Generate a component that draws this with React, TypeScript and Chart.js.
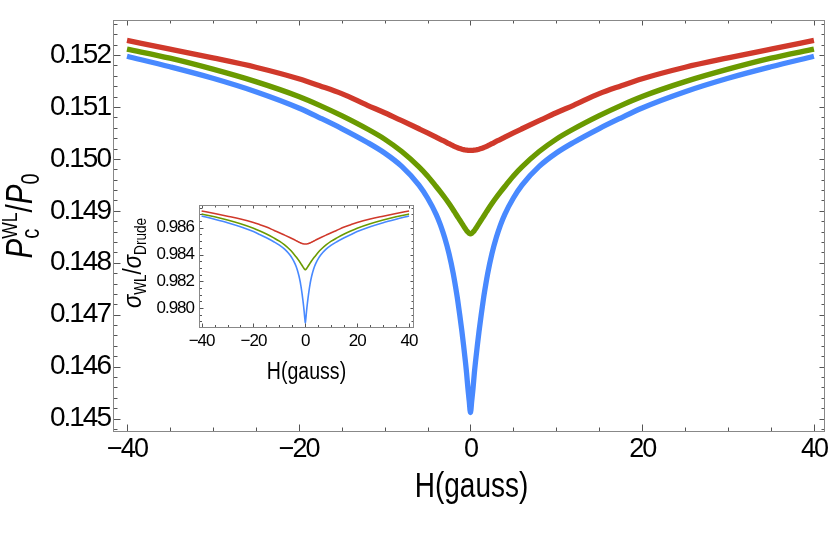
import React, { useEffect, useRef } from "react";
import { Chart, registerables } from "chart.js";
Chart.register(...registerables);

// ---------- data ----------
const H = [-40, -35, -30, -25, -20, -17.5, -15, -12, -10, -8, -6, -5, -4, -3.5, -3, -2.5, -2, -1.75, -1.5, -1.25, -1, -0.8, -0.6, -0.45, -0.3, -0.15, 0, 0.15, 0.3, 0.45, 0.6, 0.8, 1, 1.25, 1.5, 1.75, 2, 2.5, 3, 3.5, 4, 5, 6, 8, 10, 12, 15, 17.5, 20, 25, 30, 35, 40];

const mainRed = [0.152282, 0.152116, 0.151946, 0.151766, 0.151544, 0.151406, 0.151258, 0.151033, 0.150889, 0.150736, 0.150581, 0.150502, 0.150419, 0.150376, 0.150336, 0.150293, 0.150253, 0.150232, 0.150216, 0.150201, 0.150188, 0.150179, 0.150172, 0.150169, 0.150166, 0.150165, 0.150164, 0.150165, 0.150166, 0.150169, 0.150172, 0.150179, 0.150188, 0.150201, 0.150216, 0.150232, 0.150253, 0.150293, 0.150336, 0.150376, 0.150419, 0.150502, 0.150581, 0.150736, 0.150889, 0.151033, 0.151258, 0.151406, 0.151544, 0.151766, 0.151946, 0.152116, 0.152282];
const mainGreen = [0.152116, 0.151941, 0.151729, 0.151489, 0.151203, 0.151028, 0.150834, 0.150576, 0.150382, 0.150142, 0.149847, 0.149672, 0.149469, 0.149365, 0.149256, 0.14914, 0.149017, 0.148952, 0.148887, 0.148823, 0.148758, 0.148705, 0.148657, 0.14862, 0.148592, 0.148568, 0.148555, 0.148568, 0.148592, 0.14862, 0.148657, 0.148705, 0.148758, 0.148823, 0.148887, 0.148952, 0.149017, 0.14914, 0.149256, 0.149365, 0.149469, 0.149672, 0.149847, 0.150142, 0.150382, 0.150576, 0.150834, 0.151028, 0.151203, 0.151489, 0.151729, 0.151941, 0.152116];
const mainBlue = [0.151978, 0.151775, 0.151554, 0.151295, 0.150982, 0.150788, 0.150585, 0.150317, 0.150114, 0.149856, 0.149496, 0.149247, 0.148934, 0.148731, 0.148482, 0.148177, 0.14779, 0.14755, 0.147292, 0.146996, 0.146683, 0.146406, 0.146111, 0.145871, 0.145585, 0.145345, 0.145115, 0.145345, 0.145585, 0.145871, 0.146111, 0.146406, 0.146683, 0.146996, 0.147292, 0.14755, 0.14779, 0.148177, 0.148482, 0.148731, 0.148934, 0.149247, 0.149496, 0.149856, 0.150114, 0.150317, 0.150585, 0.150788, 0.150982, 0.151295, 0.151554, 0.151775, 0.151978];

const insetRed = [0.98726, 0.987066, 0.986867, 0.986656, 0.986397, 0.986235, 0.986062, 0.985799, 0.98563, 0.985451, 0.98527, 0.985177, 0.98508, 0.98503, 0.984983, 0.984933, 0.984886, 0.984861, 0.984843, 0.984825, 0.98481, 0.984799, 0.984791, 0.984788, 0.984784, 0.984783, 0.984782, 0.984783, 0.984784, 0.984788, 0.984791, 0.984799, 0.98481, 0.984825, 0.984843, 0.984861, 0.984886, 0.984933, 0.984983, 0.98503, 0.98508, 0.985177, 0.98527, 0.985451, 0.98563, 0.985799, 0.986062, 0.986235, 0.986397, 0.986656, 0.986867, 0.987066, 0.98726];
const insetGreen = [0.98703, 0.986825, 0.986577, 0.986296, 0.985962, 0.985757, 0.98553, 0.985228, 0.985001, 0.98472, 0.984375, 0.98417, 0.983933, 0.983811, 0.983684, 0.983548, 0.983404, 0.983328, 0.983252, 0.983177, 0.983101, 0.983039, 0.982983, 0.98294, 0.982907, 0.982879, 0.982864, 0.982879, 0.982907, 0.98294, 0.982983, 0.983039, 0.983101, 0.983177, 0.983252, 0.983328, 0.983404, 0.983548, 0.983684, 0.983811, 0.983933, 0.98417, 0.984375, 0.98472, 0.985001, 0.985228, 0.98553, 0.985757, 0.985962, 0.986296, 0.986577, 0.986825, 0.98703];
const insetBlue = [0.98688, 0.986642, 0.986384, 0.986081, 0.985715, 0.985488, 0.98525, 0.984937, 0.984699, 0.984397, 0.983976, 0.983685, 0.983319, 0.983081, 0.98279, 0.982433, 0.98198, 0.981699, 0.981397, 0.981051, 0.980685, 0.980361, 0.980016, 0.979735, 0.9794, 0.979119, 0.97885, 0.979119, 0.9794, 0.979735, 0.980016, 0.980361, 0.980685, 0.981051, 0.981397, 0.981699, 0.98198, 0.982433, 0.98279, 0.983081, 0.983319, 0.983685, 0.983976, 0.984397, 0.984699, 0.984937, 0.98525, 0.985488, 0.985715, 0.986081, 0.986384, 0.986642, 0.98688];

const mainXTicks = [-40, -20, 0, 20, 40];
const mainYTicks = [0.145, 0.146, 0.147, 0.148, 0.149, 0.15, 0.151, 0.152];
const insetXTicks = [-40, -20, 0, 20, 40];
const insetYTicks = [0.98, 0.982, 0.984, 0.986];

// ---------- style ----------
const FONT = "'Liberation Sans', Arimo, Arial, sans-serif";
const RED = "#D0392B";
const GREEN = "#6A9A00";
const BLUE = "#4889FF";
const FRAME = "#888888";
const TICK = "#555555";

type Part = { t: string; size: number; italic?: boolean; dy?: number; noAdvance?: boolean };

function drawParts(ctx: CanvasRenderingContext2D, parts: Part[], x: number, y: number, rotate: boolean, sx: number) {
  ctx.save();
  (ctx as any).letterSpacing = "0px";
  ctx.fillStyle = "#000";
  ctx.textBaseline = "alphabetic";
  ctx.textAlign = "left";
  let total = 0;
  for (const p of parts) {
    ctx.font = `${p.italic ? "italic " : ""}${p.size}px ${FONT}`;
    if (!p.noAdvance) total += ctx.measureText(p.t).width;
  }
  ctx.translate(x, y);
  if (rotate) ctx.rotate(-Math.PI / 2);
  ctx.scale(sx, 1);
  let cx = -total / 2;
  for (const p of parts) {
    ctx.font = `${p.italic ? "italic " : ""}${p.size}px ${FONT}`;
    ctx.fillText(p.t, cx, p.dy || 0);
    if (!p.noAdvance) cx += ctx.measureText(p.t).width;
  }
  ctx.restore();
}

function range(a: number, b: number, step: number) {
  const out: number[] = [];
  for (let v = a; v <= b + step * 1e-6; v += step) out.push(Math.round(v / step) * step);
  return out;
}

type FrameCfg = {
  xMajor: number[]; xMinor: number[]; yMajor: number[]; yMinor: number[];
  major: number; minor: number; major2: number; minor2: number;
  spacing: string;
  titles: (ctx: CanvasRenderingContext2D) => void;
};

function framePlugin(id: string, cfg: FrameCfg) {
  return {
    id,
    beforeDraw(chart: any) {
      (chart.ctx as any).letterSpacing = cfg.spacing;
    },
    afterDraw(chart: any) {
      const { ctx, chartArea: a, scales } = chart;
      (ctx as any).letterSpacing = "0px";
      const xs = scales.x, ys = scales.y;
      const L = Math.round(a.left) + 0.5, R = Math.round(a.right) - 0.5;
      const T = Math.round(a.top) + 0.5, B = Math.round(a.bottom) - 0.5;
      ctx.save();
      ctx.lineWidth = 1;
      ctx.strokeStyle = TICK;
      ctx.beginPath();
      const xt = (v: number, l1: number, l2: number) => {
        const px = Math.round(xs.getPixelForValue(v)) + 0.5;
        if (px < L || px > R) return;
        ctx.moveTo(px, B); ctx.lineTo(px, B - l1);
        ctx.moveTo(px, T); ctx.lineTo(px, T + l2);
      };
      const yt = (v: number, l1: number, l2: number) => {
        const py = Math.round(ys.getPixelForValue(v)) + 0.5;
        if (py < T || py > B) return;
        ctx.moveTo(L, py); ctx.lineTo(L + l1, py);
        ctx.moveTo(R, py); ctx.lineTo(R - l2, py);
      };
      cfg.xMajor.forEach((v) => xt(v, cfg.major, cfg.major2));
      cfg.xMinor.forEach((v) => xt(v, cfg.minor, cfg.minor2));
      cfg.yMajor.forEach((v) => yt(v, cfg.major, cfg.major2));
      cfg.yMinor.forEach((v) => yt(v, cfg.minor, cfg.minor2));
      ctx.stroke();
      ctx.strokeStyle = FRAME;
      ctx.strokeRect(L, T, R - L, B - T);
      ctx.restore();
      cfg.titles(ctx);
    },
  };
}

const fmtX = (v: number) => (v < 0 ? "\u2212" + Math.abs(v) : String(v));

function makeDatasets(h: number[], r: number[], g: number[], b: number[], w: number) {
  const mk = (arr: number[], color: string) => ({
    data: h.map((x, i) => ({ x, y: arr[i] })),
    borderColor: color,
    backgroundColor: color,
    borderWidth: w,
    pointRadius: 0,
    fill: false,
    cubicInterpolationMode: "monotone" as const,
    borderCapStyle: "butt" as const,
  });
  return [mk(b, BLUE), mk(g, GREEN), mk(r, RED)];
}

export default function App() {
  const mainRef = useRef<HTMLCanvasElement>(null);
  const insetRef = useRef<HTMLCanvasElement>(null);

  useEffect(() => {
    const mainFrame = framePlugin("mainFrame", {
      xMajor: mainXTicks,
      xMinor: range(-40, 40, 5).filter((v) => v % 20 !== 0),
      yMajor: mainYTicks,
      yMinor: range(0.1448, 0.1526, 0.0002).filter((v) => Math.abs(v * 1000 - Math.round(v * 1000)) > 1e-6),
      major: 7, minor: 4, major2: 5, minor2: 3,
      spacing: "-2px",
      titles: (ctx) => {
        drawParts(ctx, [{ t: "H(gauss)", size: 35 }], 471.5, 497, false, 0.8);
        drawParts(
          ctx,
          [
            { t: "P", size: 37, italic: true },
            { t: "c", size: 25, dy: 7, noAdvance: true },
            { t: "WL", size: 22, dy: -15 },
            { t: "/", size: 37 },
            { t: "P", size: 37, italic: true },
            { t: "0", size: 25, dy: 7 },
          ],
          32, 216, true, 0.8
        );
      },
    });

    const main = new Chart(mainRef.current!, {
      type: "line",
      data: { datasets: makeDatasets(H, mainRed, mainGreen, mainBlue, 5.3) as any },
      options: {
        responsive: true,
        maintainAspectRatio: false,
        animation: false,
        layout: { padding: { left: 0, right: 3, top: 3, bottom: 0 } },
        plugins: { legend: { display: false }, tooltip: { enabled: false } },
        scales: {
          x: {
            type: "linear",
            min: -41.63,
            max: 41.28,
            grid: { display: false, drawTicks: false },
            border: { display: false },
            afterBuildTicks: (s: any) => { s.ticks = mainXTicks.map((v) => ({ value: v })); },
            afterFit: (s: any) => { s.height = 117; },
            ticks: {
              padding: 1,
              color: "#000",
              font: { family: FONT, size: 27 },
              maxRotation: 0,
              callback: (v: any) => fmtX(Number(v)),
            },
          },
          y: {
            type: "linear",
            min: 0.14474,
            max: 0.15268,
            grid: { display: false, drawTicks: false },
            border: { display: false },
            afterBuildTicks: (s: any) => { s.ticks = mainYTicks.map((v) => ({ value: v })); },
            afterFit: (s: any) => { s.width = 113; },
            ticks: {
              padding: 3,
              color: "#000",
              font: { family: FONT, size: 28 },
              callback: (v: any) => Number(v).toFixed(3),
            },
          },
        },
      },
      plugins: [mainFrame],
    });

    const insetFrame = framePlugin("insetFrame", {
      xMajor: insetXTicks,
      xMinor: range(-40, 40, 5).filter((v) => v % 20 !== 0),
      yMajor: insetYTicks,
      yMinor: range(0.9785, 0.9875, 0.0005).filter((v) => Math.abs(v * 500 - Math.round(v * 500)) > 1e-6),
      major: 4, minor: 2.5, major2: 3, minor2: 2,
      spacing: "-1px",
      titles: (ctx) => {
        drawParts(ctx, [{ t: "H(gauss)", size: 23 }], 196.5, 188.5, false, 0.85);
        drawParts(
          ctx,
          [
            { t: "\u03C3", size: 26, italic: true },
            { t: "WL", size: 16, dy: 5 },
            { t: "/", size: 26 },
            { t: "\u03C3", size: 26, italic: true },
            { t: "Drude", size: 16, dy: 5 },
          ],
          31, 73, true, 0.85
        );
      },
    });

    const inset = new Chart(insetRef.current!, {
      type: "line",
      data: { datasets: makeDatasets(H, insetRed, insetGreen, insetBlue, 1.6) as any },
      options: {
        responsive: true,
        maintainAspectRatio: false,
        animation: false,
        layout: { padding: { left: 0, right: 8, top: 9, bottom: 0 } },
        plugins: { legend: { display: false }, tooltip: { enabled: false } },
        scales: {
          x: {
            type: "linear",
            min: -41.0,
            max: 41.9,
            grid: { display: false, drawTicks: false },
            border: { display: false },
            afterBuildTicks: (s: any) => { s.ticks = insetXTicks.map((v) => ({ value: v })); },
            afterFit: (s: any) => { s.height = 62; },
            ticks: {
              padding: 3,
              color: "#000",
              font: { family: FONT, size: 17 },
              maxRotation: 0,
              callback: (v: any) => fmtX(Number(v)),
            },
          },
          y: {
            type: "linear",
            min: 0.9785,
            max: 0.98769,
            grid: { display: false, drawTicks: false },
            border: { display: false },
            afterBuildTicks: (s: any) => { s.ticks = insetYTicks.map((v) => ({ value: v })); },
            afterFit: (s: any) => { s.width = 89; },
            ticks: {
              padding: 5,
              color: "#000",
              font: { family: FONT, size: 17 },
              callback: (v: any) => Number(v).toFixed(3),
            },
          },
        },
      },
      plugins: [insetFrame],
    });

    return () => {
      main.destroy();
      inset.destroy();
    };
  }, []);

  return (
    <div style={{ position: "fixed", left: 0, top: 0, width: 830, height: 549, background: "#fff" }}>
      <div style={{ position: "absolute", left: 0, top: 0, width: 830, height: 549 }}>
        <canvas ref={mainRef} />
      </div>
      <div style={{ position: "absolute", left: 110, top: 190, width: 312, height: 200 }}>
        <canvas ref={insetRef} />
      </div>
    </div>
  );
}
